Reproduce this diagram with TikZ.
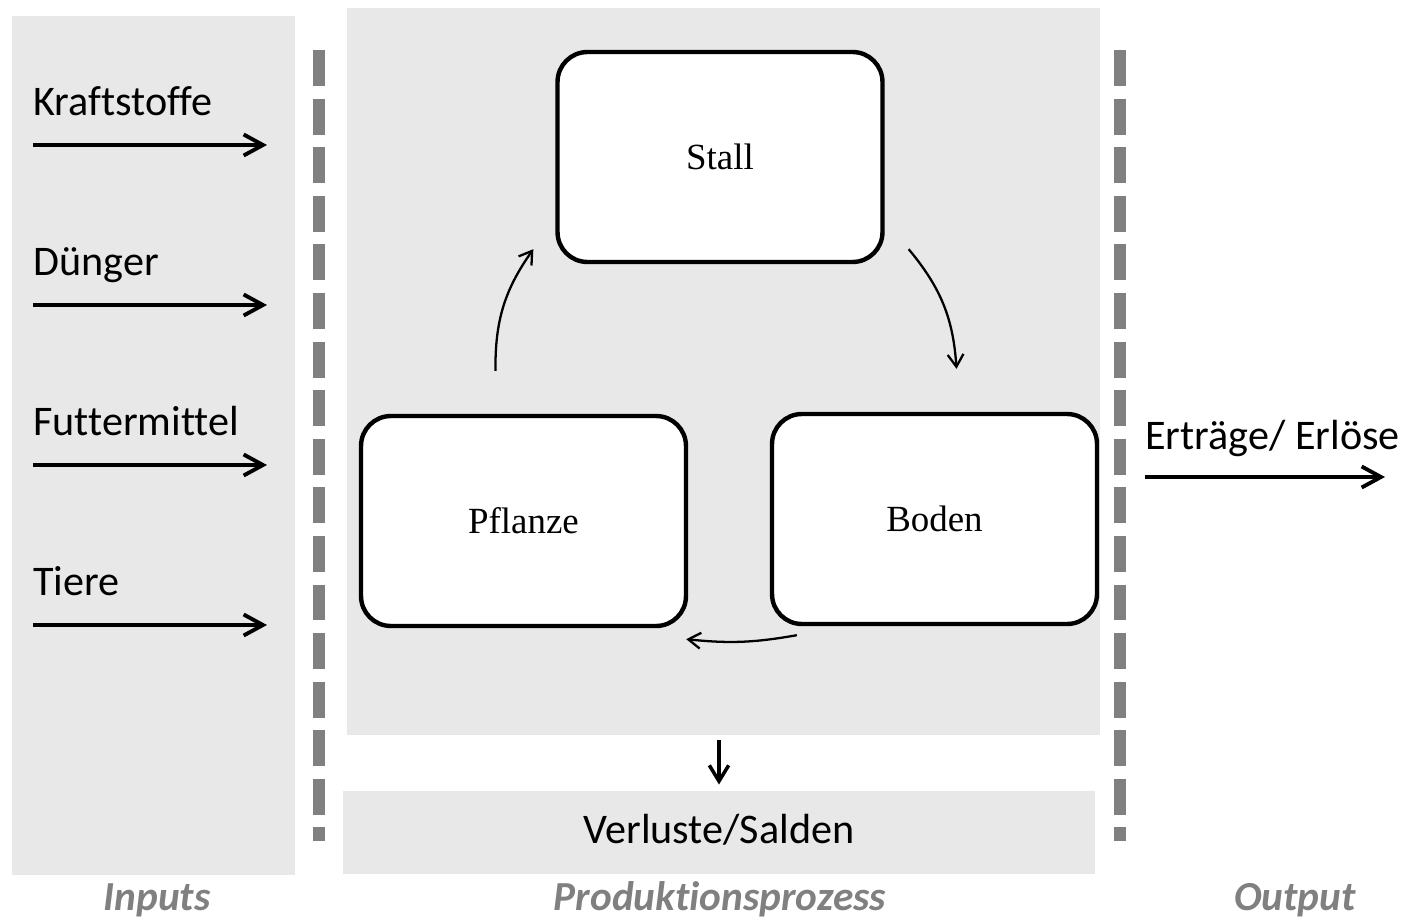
\documentclass[tikz,border=0pt]{standalone}
\usepackage{fontspec}
\setmainfont[Ligatures=NoCommon]{Carlito}
\newfontfamily\boxfont{Liberation Serif}
\usetikzlibrary{positioning,arrows.meta}

\definecolor{hatch}{gray}{0.91}
\definecolor{bargray}{gray}{0.5}

\tikzset{
  panel/.style={fill=hatch, inner sep=0pt, outer sep=0pt},
  prozbox/.style={draw, line width=2.5pt, rounded corners=17pt, fill=white,
    minimum width=6.5cm, minimum height=4.2cm, inner sep=0pt,
    font=\boxfont\fontsize{21}{25}\selectfont},
  lbl/.style={anchor=base west, inner sep=0pt, font=\fontsize{24}{29}\selectfont},
  phase/.style={anchor=base, inner sep=0pt, text=bargray,
    font=\fontsize{23.5}{28}\selectfont\bfseries\itshape},
  inarrow/.style={-{Straight Barb[length=11pt,width=12pt]}, line width=2.2pt},
  cyc/.style={-{Straight Barb[length=7pt,width=9pt]}, line width=1.3pt},
  border/.style={bargray, line width=0.24cm, dash pattern=on 0.72cm off 0.252cm}
}

\begin{document}
\begin{tikzpicture}[x=0.02cm,y=-0.02cm]
  \useasboundingbox (0,0) rectangle (1405,919);

  % Hintergrundflaechen
  \node[panel, minimum width=5.66cm, minimum height=17.18cm] (inp) at (153.5,445.5) {};
  \node[panel, minimum width=15.06cm, minimum height=14.54cm] (proz) at (723.5,371.5) {};
  \node[panel, minimum width=15.04cm, minimum height=1.66cm] (verl) at (719,832) {};
  \node[anchor=base, font=\fontsize{24}{29}\selectfont] at (719,843) {Verluste/Salden};

  % Systemgrenzen
  \draw[border] (319,50) -- (319,841);
  \draw[border] (1120,50) -- (1120,841);

  % Inputs
  \foreach \name/\txt [count=\i from 0] in {kr/Kraftstoffe, du/Dünger, fu/Futtermittel, ti/Tiere} {
    \node[lbl] (\name) at (33,115+160*\i) {\txt};
    \coordinate (\name a) at (33,145+160*\i);
    \coordinate (\name b) at (267,145+160*\i);
    \draw[inarrow] (\name a) -- (\name b);
  }

  % Produktionsprozess
  \node[prozbox] (st) at (720,157) {Stall};
  \node[prozbox] (pf) at (523.5,521) {Pflanze};
  \node[prozbox] (bd) at (934.5,519) {Boden};

  \draw[cyc] ([shift={(-28,-43)}]pf.north) to[bend left=18] ([shift={(-22,-15)}]st.south west);
  \draw[cyc] ([shift={(24,-15)}]st.south east) to[bend left=18] ([shift={(22,-43)}]bd.north);
  \draw[cyc] ([shift={(27,9)}]bd.south west) to[bend left=8] ([shift={(-2,11)}]pf.south east);
  \draw[-{Straight Barb[length=9pt,width=11pt]}, line width=2pt]
    ([yshift=-0.1cm]proz.south -| verl.north) -- ([yshift=0.12cm]verl.north);

  % Output
  \node[lbl] (ertr) at (1145,449) {Erträge/ Erlöse};
  \coordinate (oa) at (1145,477);
  \coordinate (ob) at (1385,477);
  \draw[inarrow] (oa) -- (ob);

  % Phasen
  \node[phase] at (157,910) {Inputs};
  \node[phase] at (720,910) {Produktionsprozess};
  \node[phase] at (1295,910) {Output};
\end{tikzpicture}
\end{document}
